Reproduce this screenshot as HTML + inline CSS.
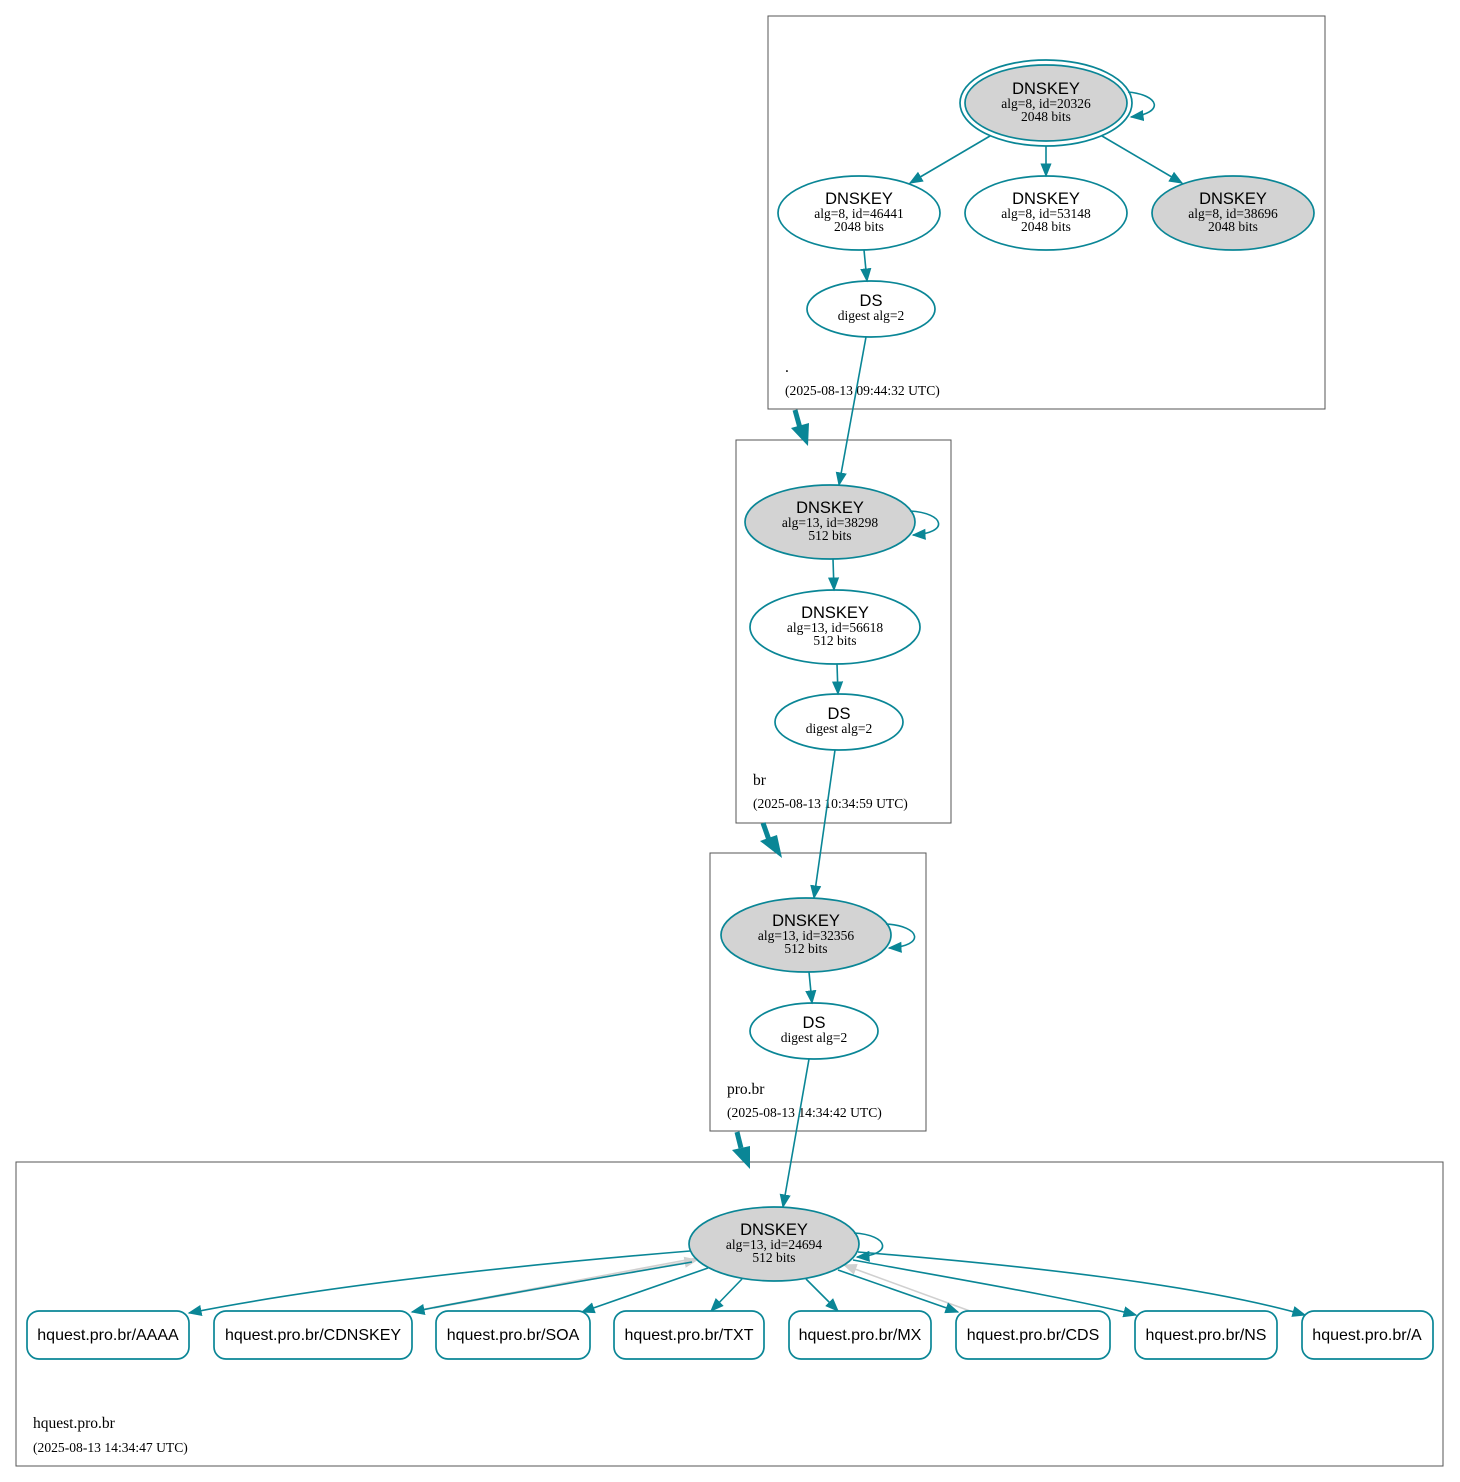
<!DOCTYPE html>
<html><head><meta charset="utf-8"><style>
html,body{margin:0;padding:0;background:#fff;}
svg{display:block}
.s{font-family:"Liberation Sans",sans-serif;font-size:16.5px;fill:#000}
.h{font-family:"Liberation Sans",sans-serif;font-size:16px;fill:#000}
.r{font-family:"Liberation Serif",serif;font-size:13.5px;fill:#000}
.l{font-family:"Liberation Serif",serif;font-size:15.5px;fill:#000}
.d{font-family:"Liberation Serif",serif;font-size:13.6px;fill:#000}
.e{fill:none;stroke:#0a8696;stroke-width:1.6}
.n{stroke:#0a8696;stroke-width:1.7}
</style></head><body>
<svg width="1460" height="1482" viewBox="0 0 1460 1482" xmlns="http://www.w3.org/2000/svg">
<defs>
<marker id="a" viewBox="0 0 10 10" refX="9" refY="5" markerWidth="14" markerHeight="14" markerUnits="userSpaceOnUse" orient="auto"><path d="M0,1 L10,5 L0,9z" fill="#0a8696"/></marker>
<marker id="g" viewBox="0 0 10 10" refX="9" refY="5" markerWidth="14" markerHeight="14" markerUnits="userSpaceOnUse" orient="auto"><path d="M0,1 L10,5 L0,9z" fill="#d0d0d0"/></marker>
</defs>
<rect x="768" y="16" width="557" height="393" fill="none" stroke="#555" stroke-width="1"/>
<rect x="736" y="440" width="215" height="383" fill="none" stroke="#555" stroke-width="1"/>
<rect x="710" y="853" width="216" height="278" fill="none" stroke="#555" stroke-width="1"/>
<rect x="16" y="1162" width="1427" height="304" fill="none" stroke="#555" stroke-width="1"/>
<text x="785" y="372" class="l">.</text>
<text x="785" y="395" class="d">(2025-08-13 09:44:32 UTC)</text>
<text x="753" y="785" class="l">br</text>
<text x="753" y="808" class="d">(2025-08-13 10:34:59 UTC)</text>
<text x="727" y="1094" class="l">pro.br</text>
<text x="727" y="1117" class="d">(2025-08-13 14:34:42 UTC)</text>
<text x="33" y="1428" class="l">hquest.pro.br</text>
<text x="33" y="1452" class="d">(2025-08-13 14:34:47 UTC)</text>
<g fill="#0a8696" stroke="#0a8696">
<line x1="795" y1="410" x2="800" y2="428" stroke-width="5"/><path d="M791,428 L809,423 L808,446z" stroke="none"/>
<line x1="763" y1="823" x2="769" y2="840" stroke-width="5"/><path d="M760,841 L777,835 L782,858z" stroke="none"/>
<line x1="737" y1="1132" x2="741" y2="1148" stroke-width="5"/><path d="M732,1150 L750,1146 L750,1169z" stroke="none"/>
</g>
<ellipse cx="1046" cy="103" rx="86" ry="43" fill="none" class="n"/>
<ellipse cx="1046" cy="103" rx="81" ry="38" fill="#d3d3d3" class="n"/>
<text x="1046" y="94" class="s" text-anchor="middle">DNSKEY</text>
<text x="1046" y="108" class="r" text-anchor="middle">alg=8, id=20326</text>
<text x="1046" y="121" class="r" text-anchor="middle">2048 bits</text>
<path class="e" d="M1128,92 C1160,95 1165,113 1131,117" marker-end="url(#a)"/>
<ellipse cx="859" cy="213" rx="81" ry="37" fill="#fff" class="n"/>
<text x="859" y="204" class="s" text-anchor="middle">DNSKEY</text>
<text x="859" y="218" class="r" text-anchor="middle">alg=8, id=46441</text>
<text x="859" y="231" class="r" text-anchor="middle">2048 bits</text>
<ellipse cx="1046" cy="213" rx="81" ry="37" fill="#fff" class="n"/>
<text x="1046" y="204" class="s" text-anchor="middle">DNSKEY</text>
<text x="1046" y="218" class="r" text-anchor="middle">alg=8, id=53148</text>
<text x="1046" y="231" class="r" text-anchor="middle">2048 bits</text>
<ellipse cx="1233" cy="213" rx="81" ry="37" fill="#d3d3d3" class="n"/>
<text x="1233" y="204" class="s" text-anchor="middle">DNSKEY</text>
<text x="1233" y="218" class="r" text-anchor="middle">alg=8, id=38696</text>
<text x="1233" y="231" class="r" text-anchor="middle">2048 bits</text>
<path class="e" d="M990,136 L910,183" marker-end="url(#a)"/>
<path class="e" d="M1046,146 L1046,176" marker-end="url(#a)"/>
<path class="e" d="M1102,136 L1182,183" marker-end="url(#a)"/>
<ellipse cx="871" cy="309" rx="64" ry="28" fill="#fff" class="n"/>
<text x="871" y="306" class="s" text-anchor="middle">DS</text>
<text x="871" y="320" class="r" text-anchor="middle">digest alg=2</text>
<path class="e" d="M864,250 L867,281" marker-end="url(#a)"/>
<path class="e" d="M866,337 L839,485" marker-end="url(#a)"/>
<ellipse cx="830" cy="522" rx="85" ry="37" fill="#d3d3d3" class="n"/>
<text x="830" y="513" class="s" text-anchor="middle">DNSKEY</text>
<text x="830" y="527" class="r" text-anchor="middle">alg=13, id=38298</text>
<text x="830" y="540" class="r" text-anchor="middle">512 bits</text>
<path class="e" d="M910,511 C945,513 950,533 913,535" marker-end="url(#a)"/>
<ellipse cx="835" cy="627" rx="85" ry="37" fill="#fff" class="n"/>
<text x="835" y="618" class="s" text-anchor="middle">DNSKEY</text>
<text x="835" y="632" class="r" text-anchor="middle">alg=13, id=56618</text>
<text x="835" y="645" class="r" text-anchor="middle">512 bits</text>
<path class="e" d="M833,559 L834,590" marker-end="url(#a)"/>
<ellipse cx="839" cy="722" rx="64" ry="28" fill="#fff" class="n"/>
<text x="839" y="719" class="s" text-anchor="middle">DS</text>
<text x="839" y="733" class="r" text-anchor="middle">digest alg=2</text>
<path class="e" d="M837,664 L838,694" marker-end="url(#a)"/>
<path class="e" d="M835,750 L814,898" marker-end="url(#a)"/>
<ellipse cx="806" cy="935" rx="85" ry="37" fill="#d3d3d3" class="n"/>
<text x="806" y="926" class="s" text-anchor="middle">DNSKEY</text>
<text x="806" y="940" class="r" text-anchor="middle">alg=13, id=32356</text>
<text x="806" y="953" class="r" text-anchor="middle">512 bits</text>
<path class="e" d="M886,924 C921,926 926,946 889,948" marker-end="url(#a)"/>
<ellipse cx="814" cy="1031" rx="64" ry="28" fill="#fff" class="n"/>
<text x="814" y="1028" class="s" text-anchor="middle">DS</text>
<text x="814" y="1042" class="r" text-anchor="middle">digest alg=2</text>
<path class="e" d="M809,972 L812,1003" marker-end="url(#a)"/>
<path class="e" d="M809,1059 L783,1207" marker-end="url(#a)"/>
<path d="M697,1258 L414,1311" fill="none" stroke="#d0d0d0" stroke-width="1.6"/>
<path d="M434,1308 L697,1260" fill="none" stroke="#d0d0d0" stroke-width="1.6" marker-end="url(#g)"/>
<path d="M970,1311 L844,1265" fill="none" stroke="#d0d0d0" stroke-width="1.6" marker-end="url(#g)"/>
<ellipse cx="774" cy="1244" rx="85" ry="37" fill="#d3d3d3" class="n"/>
<text x="774" y="1235" class="s" text-anchor="middle">DNSKEY</text>
<text x="774" y="1249" class="r" text-anchor="middle">alg=13, id=24694</text>
<text x="774" y="1262" class="r" text-anchor="middle">512 bits</text>
<path class="e" d="M854,1233 C889,1235 894,1255 857,1257" marker-end="url(#a)"/>
<path class="e" d="M690,1251 C520,1265 330,1285 189,1313" marker-end="url(#a)"/>
<path class="e" d="M692,1262 C600,1278 480,1298 412,1312" marker-end="url(#a)"/>
<path class="e" d="M708,1268 L582,1312" marker-end="url(#a)"/>
<path class="e" d="M742,1279 L711,1311" marker-end="url(#a)"/>
<path class="e" d="M806,1279 L838,1311" marker-end="url(#a)"/>
<path class="e" d="M838,1270 L958,1312" marker-end="url(#a)"/>
<path class="e" d="M853,1260 C950,1278 1070,1298 1136,1315" marker-end="url(#a)"/>
<path class="e" d="M858,1252 C1030,1266 1200,1285 1305,1315" marker-end="url(#a)"/>
<g fill="#fff" class="n">
<rect x="27" y="1311" width="162" height="48" rx="12"/>
<rect x="214" y="1311" width="198" height="48" rx="12"/>
<rect x="436" y="1311" width="154" height="48" rx="12"/>
<rect x="614" y="1311" width="150" height="48" rx="12"/>
<rect x="789" y="1311" width="142" height="48" rx="12"/>
<rect x="956" y="1311" width="154" height="48" rx="12"/>
<rect x="1135" y="1311" width="142" height="48" rx="12"/>
<rect x="1302" y="1311" width="131" height="48" rx="12"/>
</g>
<g class="h" text-anchor="middle">
<text x="108" y="1340">hquest.pro.br/AAAA</text>
<text x="313" y="1340">hquest.pro.br/CDNSKEY</text>
<text x="513" y="1340">hquest.pro.br/SOA</text>
<text x="689" y="1340">hquest.pro.br/TXT</text>
<text x="860" y="1340">hquest.pro.br/MX</text>
<text x="1033" y="1340">hquest.pro.br/CDS</text>
<text x="1206" y="1340">hquest.pro.br/NS</text>
<text x="1367" y="1340">hquest.pro.br/A</text>
</g>
</svg>
</body></html>
